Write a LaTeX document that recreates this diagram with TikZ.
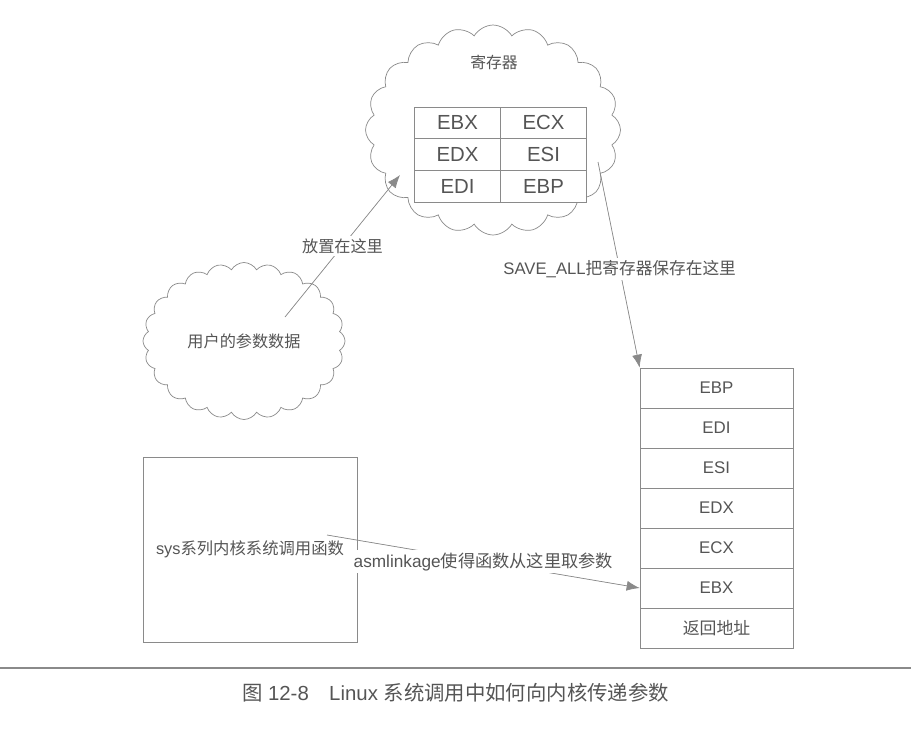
\documentclass[tikz,border=0pt]{standalone}
\usepackage{fontspec}
\setmainfont{Liberation Sans}
\newfontfamily\cjk{Noto Sans CJK SC}
\usetikzlibrary{%
  arrows.meta,%
  shapes.symbols,% wg. cloud
  positioning%
}
\definecolor{linegray}{HTML}{8A8A8A}
\definecolor{textgray}{HTML}{555555}

\begin{document}
\begin{tikzpicture}[x=0.02cm,y=-0.02cm]
 \useasboundingbox (0,0) rectangle (916,741);
 \begin{scope}[text=textgray,
   wolke/.style={cloud,cloud puffs=#1,cloud puff arc=120,cloud ignores aspect,draw=linegray,inner sep=0pt},
   reg/.style={draw=linegray,fill=white,minimum width=1.72cm,minimum height=0.634cm,inner sep=0pt,font=\fontsize{11.6}{13}\selectfont},
   stapel/.style={draw=linegray,minimum width=3.06cm,minimum height=0.8cm,inner sep=0pt,font=\fontsize{9.6}{11}\selectfont},
   beschr/.style={fill=white,inner sep=1.5pt,font=\fontsize{9.5}{11}\selectfont},
   pfeil/.style={-{Latex[length=2.6mm,width=2mm]},draw=linegray,thin,fill=linegray}]
   %Registerwolke
   \node[wolke=20,minimum width=5.1cm,minimum height=4.2cm] (regwolke) at (493,130) {};
   \node[font=\cjk\fontsize{9}{11}\selectfont] (regtitel) at (494,62) {寄存器};

   \node[reg] (ebx) at (457.5,122.8) {EBX};
   \node[reg] (ecx) at (543.5,122.8) {ECX};
   \node[reg] (edx) at (457.5,154.5) {EDX};
   \node[reg] (esi) at (543.5,154.5) {ESI};
   \node[reg] (edi) at (457.5,186.2) {EDI};
   \node[reg] (ebp) at (543.5,186.2) {EBP};

   %Benutzerdaten
   \node[wolke=24,minimum width=4.04cm,minimum height=3.14cm,font=\cjk\fontsize{9.2}{11}\selectfont] (userwolke) at (244,341) {用户的参数数据};

   %Stack
   \foreach \name [count=\i] in {EBP,EDI,ESI,EDX,ECX,EBX,{\cjk 返回地址}}
     \node[stapel] (stapel-\i) at (716.5,388+40*\i-40) {\name};

   %sys-Funktion
   \node[draw=linegray,minimum width=4.28cm,minimum height=3.7cm,inner sep=0pt,font=\fontsize{9.3}{11}\selectfont] (sysbox) at (250,549.5) {sys{\cjk 系列内核系统调用函数}};

   %Pfeile
   \coordinate (start1) at (285,317);
   \coordinate (ziel1) at (400,175);
   \draw[pfeil] (start1) -- node[beschr,font=\cjk\fontsize{9.2}{11}\selectfont] (label1) {放置在这里} (ziel1);

   \coordinate (start2) at (598,162);
   \draw[pfeil] (start2) -- node[beschr,pos=0.52] (label2) {SAVE\_ALL{\cjk 把寄存器保存在这里}} (stapel-1.north west);

   \coordinate (start3) at (327,535);
   \draw[pfeil] (start3) -- node[beschr,font=\fontsize{9.8}{11}\selectfont] (label3) {asmlinkage{\cjk 使得函数从这里取参数}} (stapel-6.west);

   %Bildunterschrift
   \coordinate (linie-l) at (0,668);
   \coordinate (linie-r) at (911,668);
   \draw[linegray,line width=0.9pt] (linie-l) -- (linie-r);
   \node[font=\fontsize{11.6}{13}\selectfont] (caption) at (455.5,693) {{\cjk 图} 12-8\quad Linux {\cjk 系统调用中如何向内核传递参数}};
 \end{scope}
\end{tikzpicture}
\end{document}
